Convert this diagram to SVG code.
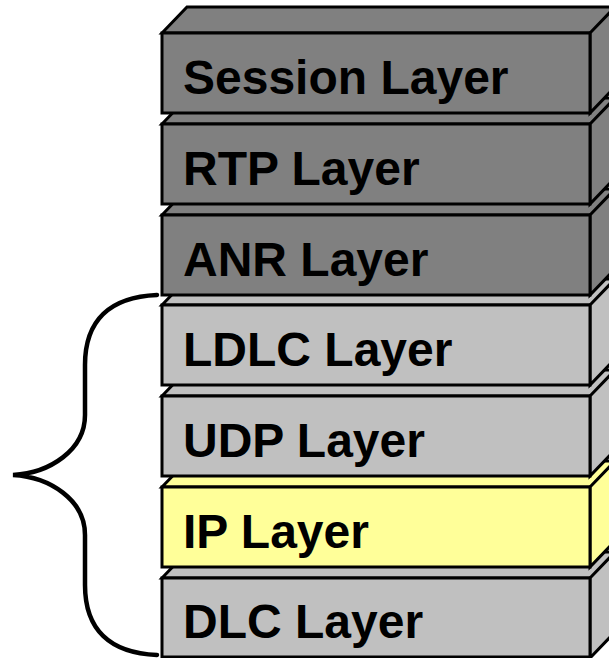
<svg xmlns="http://www.w3.org/2000/svg" width="609" height="658" viewBox="0 0 609 658">
<defs>
<style>
.face{stroke:#000;stroke-width:3;stroke-linejoin:miter}
.dark{fill:#808080}
.light{fill:#C0C0C0}
.yellow{fill:#FFFF99}
.lbl{font-family:"Liberation Sans",Arial,sans-serif;font-weight:bold;font-size:48px;fill:#000}
.brace{fill:none;stroke:#000;stroke-width:4.5;stroke-linecap:round}
</style>
</defs>
<rect width="609" height="658" fill="#fff"/>
<g id="dlc">
<path class="face light" d="M162,578 L187,552 L620,552 L595,578 Z"/>
<path class="face light" d="M590,578 L615,552 L615,632 L590,658 Z"/>
<rect class="face light" x="162" y="578" width="428" height="79"/>
<text class="lbl" x="183" y="638">DLC Layer</text>
</g>
<g id="ip">
<path class="face yellow" d="M162,487 L187,461 L620,461 L595,487 Z"/>
<path class="face yellow" d="M590,487 L615,461 L615,541 L590,567 Z"/>
<rect class="face yellow" x="162" y="487" width="428" height="80"/>
<text class="lbl" x="183" y="548">IP Layer</text>
</g>
<g id="udp">
<path class="face light" d="M162,396 L187,370 L620,370 L595,396 Z"/>
<path class="face light" d="M590,396 L615,370 L615,450 L590,476 Z"/>
<rect class="face light" x="162" y="396" width="428" height="80"/>
<text class="lbl" x="183" y="457">UDP Layer</text>
</g>
<g id="ldlc">
<path class="face light" d="M162,305 L187,279 L620,279 L595,305 Z"/>
<path class="face light" d="M590,305 L615,279 L615,359 L590,385 Z"/>
<rect class="face light" x="162" y="305" width="428" height="80"/>
<text class="lbl" x="183" y="366">LDLC Layer</text>
</g>
<g id="anr">
<path class="face dark" d="M162,215 L187,189 L620,189 L595,215 Z"/>
<path class="face dark" d="M590,215 L615,189 L615,269 L590,295 Z"/>
<rect class="face dark" x="162" y="215" width="428" height="80"/>
<text class="lbl" x="183" y="276">ANR Layer</text>
</g>
<g id="rtp">
<path class="face dark" d="M162,124 L187,98 L620,98 L595,124 Z"/>
<path class="face dark" d="M590,124 L615,98 L615,178 L590,204 Z"/>
<rect class="face dark" x="162" y="124" width="428" height="80"/>
<text class="lbl" x="183" y="185">RTP Layer</text>
</g>
<g id="session">
<path class="face dark" d="M162,33 L187,7 L620,7 L595,33 Z"/>
<path class="face dark" d="M590,33 L615,7 L615,87 L590,113 Z"/>
<rect class="face dark" x="162" y="33" width="428" height="80"/>
<text class="lbl" x="183" y="94">Session Layer</text>
</g>
<g id="connectors">
<path class="brace" d="M157,295 C110,297 85,320 85,365 L85,415 C85,450 50,473 13,475 C50,477 85,500 85,535 L85,585 C85,630 110,653 157,655"/>
</g>
</svg>
